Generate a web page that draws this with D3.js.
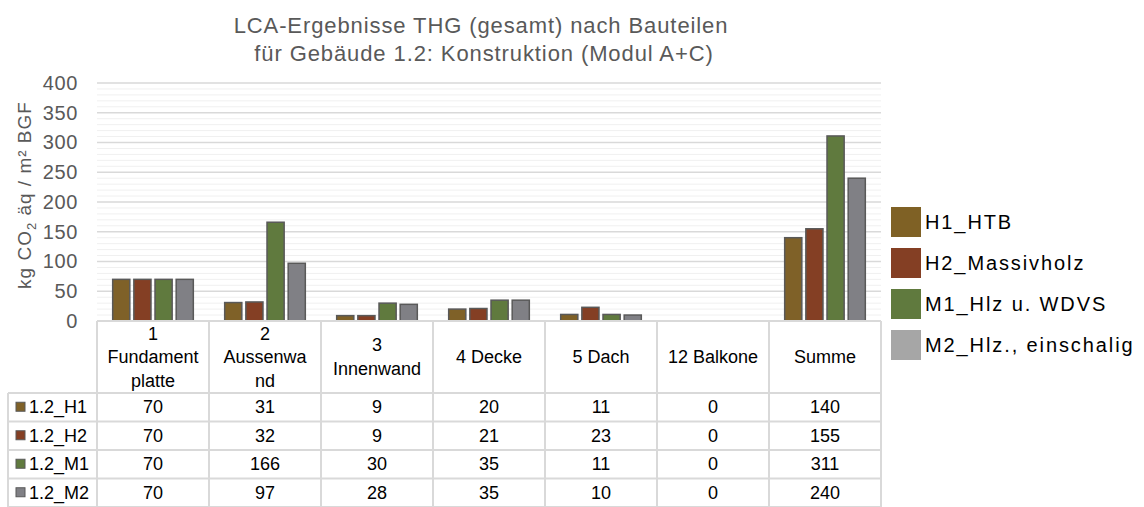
<!DOCTYPE html>
<html>
<head>
<meta charset="utf-8">
<script src="https://cdn.jsdelivr.net/npm/d3@7"></script>
<style>
body { margin: 0; background: #fff; }
text { font-family: "Liberation Sans", Arial, sans-serif; }
</style>
</head>
<body>
<div id="chart"></div>
<script>
var categories = [["1", "Fundament", "platte"], ["2", "Aussenwa", "nd"], ["3", "Innenwand"], ["4 Decke"], ["5 Dach"], ["12 Balkone"], ["Summe"]];
var seriesKeys = ["1.2_H1", "1.2_H2", "1.2_M1", "1.2_M2"];
var legendNames = ["H1_HTB", "H2_Massivholz", "M1_Hlz u. WDVS", "M2_Hlz., einschalig"];
var valuesH1 = [70, 31, 9, 20, 11, 0, 140];
var valuesH2 = [70, 32, 9, 21, 23, 0, 155];
var valuesM1 = [70, 166, 30, 35, 11, 0, 311];
var valuesM2 = [70, 97, 28, 35, 10, 0, 240];
var yTicks = [0, 50, 100, 150, 200, 250, 300, 350, 400];
var barColors = ["#7f6128", "#843f24", "#607a3e", "#808085"];
var legendColors = ["#7f6125", "#843f24", "#607a3e", "#a6a6a6"];

var allValues = [valuesH1, valuesH2, valuesM1, valuesM2];

var width = 1144, height = 507;
var margin = {left: 97, right: 263, top: 83};
var plotBottom = 321;

var svg = d3.select("#chart").append("svg")
    .attr("width", width)
    .attr("height", height);

var x = d3.scaleBand()
    .domain(d3.range(categories.length))
    .range([margin.left, width - margin.right])
    .paddingInner(0);

var xInner = d3.scaleBand()
    .domain(seriesKeys)
    .range([x.bandwidth() * 0.14, x.bandwidth() * 0.86])
    .paddingInner(0.19);

var y = d3.scaleLinear()
    .domain([0, 400])
    .range([plotBottom, margin.top]);

// title
svg.append("text")
    .attr("x", 481).attr("y", 33)
    .attr("text-anchor", "middle")
    .style("font-size", "22px").style("fill", "#595959")
    .style("letter-spacing", "0.9px")
    .text("LCA-Ergebnisse THG (gesamt) nach Bauteilen");
svg.append("text")
    .attr("x", 484).attr("y", 61)
    .attr("text-anchor", "middle")
    .style("font-size", "22px").style("fill", "#595959")
    .style("letter-spacing", "0.9px")
    .text("für Gebäude 1.2: Konstruktion (Modul A+C)");

// minor and major gridlines
svg.append("g").selectAll("line")
    .data(d3.range(0, 401, 10).filter(function (d) { return d % 50 != 0; }))
    .enter().append("line")
    .attr("x1", margin.left).attr("x2", width - margin.right)
    .attr("y1", function (d) { return y(d); })
    .attr("y2", function (d) { return y(d); })
    .style("stroke", "#f0f0f0").style("stroke-width", 1);

svg.append("g").selectAll("line")
    .data(yTicks)
    .enter().append("line")
    .attr("x1", margin.left).attr("x2", width - margin.right)
    .attr("y1", function (d) { return y(d); })
    .attr("y2", function (d) { return y(d); })
    .style("stroke", "#d9d9d9").style("stroke-width", 1.5);

// y axis
var yAxis = d3.axisLeft(y).tickValues(yTicks).tickSize(0).tickPadding(19);
var gy = svg.append("g")
    .attr("transform", "translate(" + margin.left + ",0)")
    .call(yAxis);
gy.select(".domain").remove();
gy.selectAll("text")
    .style("font-size", "20px")
    .style("fill", "#595959")
    .style("letter-spacing", "0.6px")
    .style("font-family", "Liberation Sans, Arial, sans-serif");

// y title
var yt = svg.append("text")
    .attr("transform", "translate(31,195) rotate(-90)")
    .attr("text-anchor", "middle")
    .style("font-size", "19px").style("fill", "#595959")
    .style("letter-spacing", "1px");
yt.append("tspan").text("kg CO");
yt.append("tspan").text("2").attr("dy", 5).style("font-size", "13px");
yt.append("tspan").text(" äq / m² BGF").attr("dy", -5);

// bars
var groups = svg.append("g").selectAll("g")
    .data(categories)
    .enter().append("g")
    .attr("transform", function (d, i) { return "translate(" + x(i) + ",0)"; });

groups.selectAll("rect")
    .data(function (d, i) {
        return seriesKeys.map(function (k, s) { return {key: k, s: s, v: allValues[s][i]}; });
    })
    .enter().append("rect")
    .attr("x", function (d) { return xInner(d.key); })
    .attr("y", function (d) { return y(d.v); })
    .attr("width", xInner.bandwidth())
    .attr("height", function (d) { return y(0) - y(d.v); })
    .style("fill", function (d) { return barColors[d.s]; })
    .style("stroke", function (d) { return d.v > 0 ? "#595959" : "none"; })
    .style("stroke-width", 1.5);

// data table
var headerBottom = 393;
var rowH = 28.5;
var tableLeft = 8;
var tableRight = width - margin.right;
var gridColor = "#d9d9d9";
var table = svg.append("g");

// horizontal lines
table.append("line")
    .attr("x1", margin.left).attr("x2", tableRight)
    .attr("y1", plotBottom).attr("y2", plotBottom)
    .style("stroke", gridColor).style("stroke-width", 2);
for (var r = 0; r <= seriesKeys.length; r++) {
    table.append("line")
        .attr("x1", tableLeft).attr("x2", tableRight)
        .attr("y1", headerBottom + r * rowH).attr("y2", headerBottom + r * rowH)
        .style("stroke", gridColor).style("stroke-width", 2);
}
// vertical lines
table.append("line")
    .attr("x1", tableLeft).attr("x2", tableLeft)
    .attr("y1", headerBottom).attr("y2", height)
    .style("stroke", gridColor).style("stroke-width", 2);
d3.range(categories.length + 1).forEach(function (i) {
    var xx = i < categories.length ? x(i) : x(categories.length - 1) + x.bandwidth();
    table.append("line")
        .attr("x1", xx).attr("x2", xx)
        .attr("y1", plotBottom).attr("y2", height)
        .style("stroke", gridColor).style("stroke-width", 2);
});

// header text
categories.forEach(function (lines, i) {
    var cx = x(i) + x.bandwidth() / 2;
    var lh = 23.5;
    var midY = (plotBottom + headerBottom) / 2 + 6;
    var startY = midY - (lines.length - 1) * lh / 2;
    lines.forEach(function (t, j) {
        table.append("text")
            .attr("x", cx).attr("y", startY + j * lh)
            .attr("text-anchor", "middle")
            .style("font-size", "18px").style("fill", "#000")
            .text(t);
    });
});

// rows
seriesKeys.forEach(function (k, s) {
    var cy = headerBottom + s * rowH + rowH / 2 + 6;
    table.append("rect")
        .attr("x", 16).attr("y", cy - 11)
        .attr("width", 9).attr("height", 9)
        .style("fill", barColors[s]).style("stroke", "#595959").style("stroke-width", 1);
    table.append("text")
        .attr("x", 29).attr("y", cy)
        .style("font-size", "18px").style("fill", "#000")
        .text(k);
    allValues[s].forEach(function (v, i) {
        table.append("text")
            .attr("x", x(i) + x.bandwidth() / 2).attr("y", cy)
            .attr("text-anchor", "middle")
            .style("font-size", "18px").style("fill", "#000")
            .text(v);
    });
});

// legend
var legend = svg.append("g").attr("transform", "translate(891,207)");
legendNames.forEach(function (n, s) {
    legend.append("rect")
        .attr("x", 0).attr("y", s * 41)
        .attr("width", 30).attr("height", 30)
        .style("fill", legendColors[s]);
    legend.append("text")
        .attr("x", 34).attr("y", s * 41 + 22)
        .style("font-size", "20px").style("fill", "#000")
        .style("letter-spacing", "1.9px")
        .text(n);
});
</script>
</body>
</html>
